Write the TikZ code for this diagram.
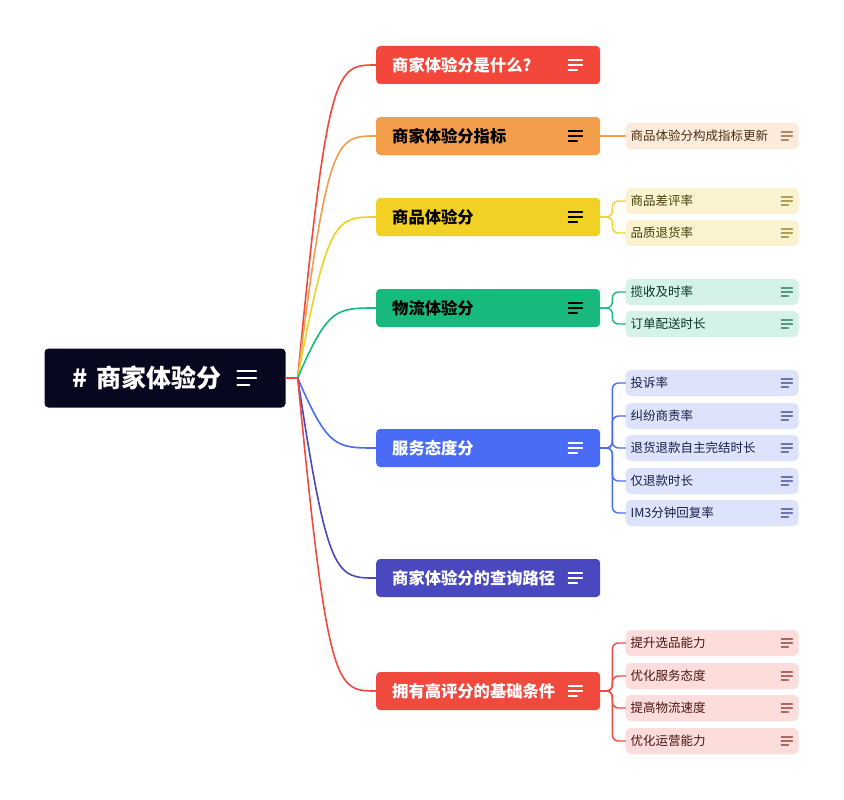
\documentclass[tikz,border=0pt]{standalone}
\usepackage{fontspec}
\setmainfont{Noto Sans CJK SC}
\usetikzlibrary{positioning,calc}

\definecolor{rootbg}{HTML}{07071F}
\definecolor{cred}{HTML}{F2473A}
\definecolor{corange}{HTML}{F29E4A}
\definecolor{cyellow}{HTML}{F0D124}
\definecolor{cgreen}{HTML}{17BA7C}
\definecolor{cblue}{HTML}{4A6BF5}
\definecolor{cindigo}{HTML}{4A48BF}
\definecolor{cpink}{HTML}{F04A3E}
\definecolor{lorange}{HTML}{FCEADB}
\definecolor{lyellow}{HTML}{FBF3D0}
\definecolor{lgreen}{HTML}{D5F2E6}
\definecolor{lblue}{HTML}{DDE3FA}
\definecolor{lpink}{HTML}{FCDDDB}

\tikzset{
  topic/.style={rounded corners=4pt, minimum height=38pt, text width=192pt,
    inner xsep=16pt, align=left, anchor=west,
    font=\bfseries\fontsize{16.3}{18}\selectfont},
  subtopic/.style={rounded corners=5pt, minimum height=26pt, text width=163pt,
    inner xsep=5pt, align=left, font=\fontsize{12.5}{14}\selectfont},
  branch/.style={line width=1.6pt},
  twig/.style={line width=1.4pt, rounded corners=6pt},
  notes/.pic={\draw (-7,-5) -- (7,-5) (-7,0) -- (7,0) (-7,5) -- (2,5);}
}

\begin{document}
\begin{tikzpicture}[x=1pt, y=-1pt, line cap=round]
	\useasboundingbox[fill=white] (0,0) rectangle (844,800);

	% root
	\node [fill=rootbg, rounded corners=4pt, text width=185pt, inner xsep=28pt,
	  minimum height=59pt, align=left, text=white,
	  font=\bfseries\fontsize{25}{28}\selectfont] (root) at (165,378)
	  {\#\ 商家体验分};
	\pic [white, line width=1.8pt, scale=1.35] at ($(root.east)+(-39,0)$) {notes};

	% main topics
	\node [topic, fill=cred, text=white]     (what)  at (376,65)  {商家体验分是什么?};
	\node [topic, fill=corange, text=black]  (index) at (376,136) {商家体验分指标};
	\node [topic, fill=cyellow, text=black]  (goods) at (376,217) {商品体验分};
	\node [topic, fill=cgreen, text=black]   (ship)  at (376,308) {物流体验分};
	\node [topic, fill=cblue, text=white]    (serve) at (376,448) {服务态度分};
	\node [topic, fill=cindigo, text=white]  (query) at (376,578) {商家体验分的查询路径};
	\node [topic, fill=cpink, text=white]    (basis) at (376,691) {拥有高评分的基础条件};

	\foreach \n/\c in {what/white, index/black, goods/black, ship/black, serve/white, query/white, basis/white}
	  \pic [\c, line width=1.3pt] at ($(\n.east)+(-25,0)$) {notes};

	% sub topics
	\node [subtopic, fill=lorange, text=corange!30!black, right=25pt of index] (update) {商品体验分构成指标更新};

	\node [subtopic, fill=lyellow, text=cyellow!30!black, right=25pt of goods, yshift=16pt]  (badrate) {商品差评率};
	\node [subtopic, fill=lyellow, text=cyellow!30!black, right=25pt of goods, yshift=-16pt] (refund)  {品质退货率};

	\node [subtopic, fill=lgreen, text=cgreen!30!black, right=25pt of ship, yshift=16pt]  (pickup) {揽收及时率};
	\node [subtopic, fill=lgreen, text=cgreen!30!black, right=25pt of ship, yshift=-16pt] (deliver) {订单配送时长};

	\node [subtopic, fill=lblue, text=cblue!30!black, right=25pt of serve, yshift=65pt]  (complain) {投诉率};
	\node [subtopic, fill=lblue, text=cblue!30!black, right=25pt of serve, yshift=32pt]  (dispute)  {纠纷商责率};
	\node [subtopic, fill=lblue, text=cblue!30!black, right=25pt of serve]               (selfdone) {退货退款自主完结时长};
	\node [subtopic, fill=lblue, text=cblue!30!black, right=25pt of serve, yshift=-33pt] (onlyref)  {仅退款时长};
	\node [subtopic, fill=lblue, text=cblue!30!black, right=25pt of serve, yshift=-65pt] (reply)    {IM3分钟回复率};

	\node [subtopic, fill=lpink, text=cpink!30!black, right=25pt of basis, yshift=48pt]  (select)  {提升选品能力};
	\node [subtopic, fill=lpink, text=cpink!30!black, right=25pt of basis, yshift=15pt]  (service) {优化服务态度};
	\node [subtopic, fill=lpink, text=cpink!30!black, right=25pt of basis, yshift=-17pt] (speed)   {提高物流速度};
	\node [subtopic, fill=lpink, text=cpink!30!black, right=25pt of basis, yshift=-50pt] (operate) {优化运营能力};

	\foreach \n/\c in {update/corange, badrate/cyellow, refund/cyellow, pickup/cgreen, deliver/cgreen,
	    complain/cblue, dispute/cblue, selfdone/cblue, onlyref/cblue, reply/cblue,
	    select/cpink, service/cpink, speed/cpink, operate/cpink}
	  \pic [\c!40!gray, line width=1.1pt, scale=0.8] at ($(\n.east)+(-12,0)$) {notes};

	% branches from root
	\draw [branch, cred] (root.east) -- ++(12,0) coordinate (fan);
	\foreach \n/\c in {what/cred, index/corange, goods/cyellow, ship/cgreen, serve/cblue, query/cindigo, basis/cpink}
	  \draw [branch, \c] (fan) .. controls ($(fan |- \n.west)+(30,0)$) and ($(\n.west)+(-40,0)$) .. (\n.west);

	% twigs to sub topics
	\draw [twig, corange] (index.east) -- (update.west);
	\foreach \k in {badrate, refund}
	  \draw [twig, cyellow] (goods.east) -- ++(12,0) |- (\k.west);
	\foreach \k in {pickup, deliver}
	  \draw [twig, cgreen] (ship.east) -- ++(12,0) |- (\k.west);
	\foreach \k in {complain, dispute, selfdone, onlyref, reply}
	  \draw [twig, cblue] (serve.east) -- ++(12,0) |- (\k.west);
	\foreach \k in {select, service, speed, operate}
	  \draw [twig, cpink] (basis.east) -- ++(12,0) |- (\k.west);
\end{tikzpicture}
\end{document}
